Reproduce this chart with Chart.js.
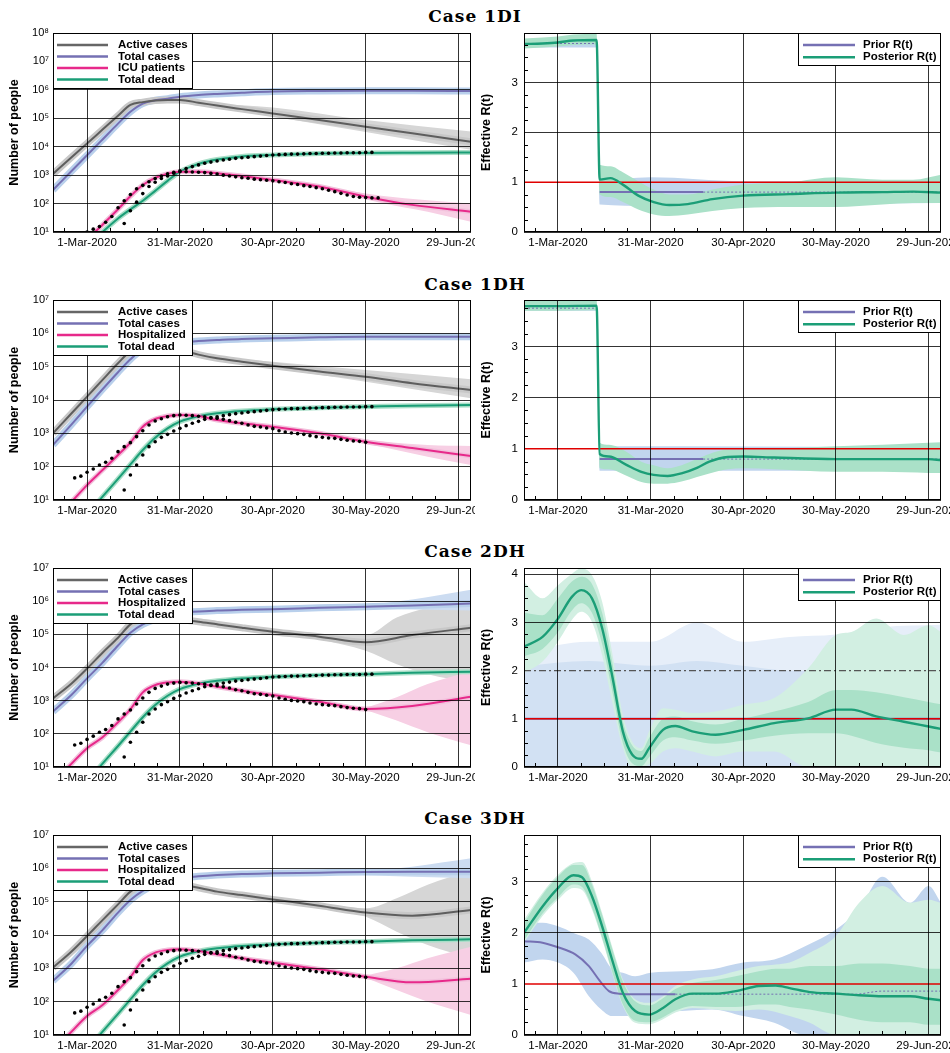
<!DOCTYPE html>
<html>
<head>
<meta charset="utf-8">
<title>Cases 1DI - 3DH</title>
<script src="https://cdn.jsdelivr.net/npm/chart.js@4.4.1/dist/chart.umd.min.js"></script>
<style>
  html, body { margin: 0; padding: 0; background: #fff; }
  #page { position: relative; width: 950px; height: 1053px; overflow: hidden; }
  #page canvas { position: absolute; }
  .case-title { position: absolute; left: 0; width: 950px; height: 20px; line-height: 20px;
    text-align: center; font: bold 17px "DejaVu Serif", serif; letter-spacing: 1px; color: #000; }
</style>
</head>
<body>
<div id="page"></div>
<script>
// ---------- axes ----------
// x = days since 1-Mar-2020
const tickDays = [0, 30, 60, 90, 120];
const tickLabels = ['1-Mar-2020', '31-Mar-2020', '30-Apr-2020', '30-May-2020', '29-Jun-2020'];
const minorDays = [-7.5, 7.5, 15, 22.5, 37.5, 45, 52.5, 67.5, 75, 82.5, 97.5, 105, 112.5];
const logTicks = [1e1, 1e2, 1e3, 1e4, 1e5, 1e6, 1e7, 1e8];
const rTicks = [0, 1, 2, 3, 4];
const caseNames = ['Case 1DI', 'Case 1DH', 'Case 2DH', 'Case 3DH'];
const legendICU = ['Active cases', 'Total cases', 'ICU patients', 'Total dead'];
const legendHosp = ['Active cases', 'Total cases', 'Hospitalized', 'Total dead'];
const legendR = ['Prior R(t)', 'Posterior R(t)'];
const peopleMax = [1e8, 1e7, 1e7, 1e7];
const rMax = [3.99, 3.91, 4.13, 3.92];

// ---------- observed data (dots) ----------
const obsDays = [-4, -2, 0, 2, 4, 6, 8, 10, 12, 14, 16, 18, 20, 22, 24, 26, 28, 30, 32, 34, 36, 38, 40, 42, 44,
  46, 48, 50, 52, 54, 56, 58, 60, 62, 64, 66, 68, 70, 72, 74, 76, 78, 80, 82, 84, 86, 88, 90, 92, 94];
const icuObs = [null, null, 10, 12.6, 15.5, 22, 35, 71, 126, 209, 331, 437, 589, 759, 933, 1120, 1260, 1320, 1320,
  1290, 1260, 1230, 1150, 1100, 1000, 933, 871, 813, 776, 724, 692, 661, 631, 589, 550, 501, 468, 427, 398, 363,
  331, 295, 263, 229, 200, 178, 166, 162, 158, 158];
const hospObs = [46, 52, 68, 85, 112, 135, 178, 282, 398, 525, 794, 1200, 1780, 2340, 2750, 3160, 3390, 3550, 3470,
  3390, 3240, 3160, 2950, 2820, 2630, 2400, 2140, 2000, 1780, 1620, 1550, 1450, 1380, 1200, 1100, 1020, 977, 933,
  851, 794, 759, 724, 708, 661, 617, 589, 575, 537, null, null];
const deadObs = [null, null, null, null, null, null, null, 9, 20, 56, 112, 224, 398, 562, 759, 933, 1170, 1410, 1700,
  2000, 2290, 2630, 2880, 3160, 3390, 3630, 3890, 4070, 4270, 4470, 4680, 4900, 5130, 5250, 5370, 5500, 5500, 5620,
  5750, 5750, 5890, 5890, 6030, 6030, 6170, 6170, 6170, 6310, 6310, null];

// ---------- model medians (number of people) ----------
const modelDays = [-11, -5, 0, 5, 10, 14, 18, 22, 26, 30, 36, 42, 50, 60, 75, 90, 105, 124];
const active1DI = [1.1e3, 4.3e3, 1.3e4, 4.0e4, 1.23e5, 2.95e5, 3.7e5, 4.2e5, 4.4e5, 4.4e5, 3.55e5, 2.8e5, 2.1e5, 1.48e5, 8.7e4, 5.0e4, 2.95e4, 1.48e4];
const total1DI = [3.0e2, 1.4e3, 5.0e3, 1.8e4, 6.5e4, 1.7e5, 3.3e5, 4.3e5, 4.9e5, 5.75e5, 6.6e5, 7.2e5, 7.9e5, 8.7e5, 9.1e5, 9.3e5, 9.3e5, 9.1e5];
const icu1DI = [1, 2.2, 5.6, 18, 63, 180, 450, 800, 1120, 1320, 1320, 1170, 930, 680, 400, 175, 90, 52];
const dead1DI = [0.25, 1, 3, 10, 30, 63, 126, 280, 630, 1320, 2500, 3550, 4570, 5130, 5750, 6030, 6170, 6310];

const active1DH = [1.0e3, 4.0e3, 1.26e4, 4.0e4, 1.26e5, 2.8e5, 3.2e5, 3.6e5, 3.6e5, 3.2e5, 2.3e5, 1.78e5, 1.41e5, 1.07e5, 7.2e4, 5.0e4, 3.2e4, 2.0e4];
const total1DH = [4.5e2, 1.86e3, 6.3e3, 2.1e4, 6.8e4, 1.66e5, 3.3e5, 4.0e5, 4.6e5, 5.25e5, 5.9e5, 6.3e5, 6.8e5, 7.1e5, 7.6e5, 7.9e5, 7.9e5, 7.9e5];
const hosp1DH = [2.5, 8.9, 28, 79, 224, 525, 1580, 2690, 3310, 3550, 3310, 2510, 2000, 1580, 1000, 562, 363, 209];
const dead1DH = [0.16, 1, 3.5, 12.6, 43, 117, 316, 741, 1410, 2240, 3240, 3980, 4680, 5250, 5890, 6310, 6760, 7080];

const active2DH = [1.17e3, 3.3e3, 9.3e3, 2.8e4, 7.9e4, 2.0e5, 3.0e5, 3.3e5, 3.2e5, 2.8e5, 2.4e5, 2.0e5, 1.58e5, 1.2e5, 8.5e4, 5.75e4, 9.5e4, 1.58e5];
const total2DH = [4.7e2, 1.5e3, 4.7e3, 1.4e4, 4.6e4, 1.12e5, 2.0e5, 2.8e5, 3.7e5, 4.5e5, 4.9e5, 5.25e5, 5.5e5, 5.75e5, 6.3e5, 6.8e5, 7.4e5, 8.5e5];
const hosp2DH = [3.2, 12.6, 37, 79, 224, 550, 1780, 2950, 3550, 3720, 3310, 2630, 2000, 1480, 933, 562, 690, 1320];
const dead2DH = [0.16, 1, 3.5, 12.6, 43, 117, 316, 741, 1410, 2240, 3240, 3980, 4680, 5250, 5890, 6310, 6920, 7410];

const active3DH = [1.05e3, 3.2e3, 9.3e3, 2.8e4, 8.3e4, 2.0e5, 3.2e5, 3.7e5, 3.8e5, 3.4e5, 2.6e5, 2.0e5, 1.58e5, 1.17e5, 7.6e4, 4.7e4, 3.8e4, 5.6e4];
const total3DH = [4.2e2, 1.4e3, 4.7e3, 1.4e4, 4.7e4, 1.12e5, 2.1e5, 3.2e5, 4.2e5, 5.0e5, 5.75e5, 6.3e5, 6.8e5, 7.1e5, 7.4e5, 7.8e5, 7.9e5, 7.9e5];
const hosp3DH = [3.2, 12.6, 37, 79, 224, 550, 1780, 2950, 3550, 3720, 3310, 2630, 2000, 1480, 933, 562, 380, 490];
const dead3DH = [0.16, 1, 3.5, 12.6, 43, 117, 316, 741, 1410, 2240, 3240, 3980, 4680, 5250, 5890, 6310, 6920, 7410];

// ---------- ensemble spread (low / high envelopes) ----------
const activeFanDays1DI = [26, 40, 60, 90, 124];
const activeFanLo1DI = [3.9e5, 2.6e5, 1.15e5, 3.3e4, 7.8e3];
const activeFanHi1DI = [4.9e5, 3.4e5, 2.4e5, 8.7e4, 3.4e4];
const icuFanDays1DI = [80, 95, 110, 124];
const icuFanLo1DI = [282, 105, 52, 23];
const icuFanHi1DI = [331, 190, 132, 100];

const activeFanDays1DH = [26, 40, 60, 90, 124];
const activeFanLo1DH = [3.2e5, 1.58e5, 8.9e4, 3.5e4, 1.12e4];
const activeFanHi1DH = [4.2e5, 2.1e5, 1.41e5, 7.9e4, 4.2e4];
const hospFanDays1DH = [80, 95, 110, 124];
const hospFanLo1DH = [760, 398, 200, 112];
const hospFanHi1DH = [912, 575, 447, 417];

const activeFanDays2DH = [75, 90, 100, 110, 124];
const activeFanLo2DH = [7.1e4, 3.2e4, 1.26e4, 6.3e3, 3.5e3];
const activeFanHi2DH = [1.0e5, 9.5e4, 3.2e5, 6.3e5, 1.26e6];
const totalFanDays2DH = [90, 105, 124];
const totalFanLo2DH = [6.3e5, 5.6e5, 5.25e5];
const totalFanHi2DH = [7.6e5, 1.12e6, 2.2e6];
const hospFanDays2DH = [90, 100, 110, 124];
const hospFanLo2DH = [525, 251, 112, 45];
const hospFanHi2DH = [603, 1260, 3160, 7900];

const activeFanDays3DH = [75, 90, 100, 110, 124];
const activeFanLo3DH = [7.1e4, 3.5e4, 1.26e4, 5.0e3, 2.0e3];
const activeFanHi3DH = [8.9e4, 6.3e4, 1.26e5, 3.2e5, 8.9e5];
const totalFanDays3DH = [90, 105, 124];
const totalFanLo3DH = [6.3e5, 5.6e5, 5.0e5];
const totalFanHi3DH = [7.9e5, 1.12e6, 2.0e6];
const hospFanDays3DH = [90, 100, 110, 124];
const hospFanLo3DH = [525, 224, 100, 40];
const hospFanHi3DH = [603, 1000, 2000, 4470];

// ---------- effective R(t) ----------
const rDays1DI = [-11, -5, 0, 5, 12.5, 13.5, 17, 21, 26, 31, 36, 42, 50, 60, 75, 90, 105, 115, 124];
const post1DI = [3.77, 3.78, 3.8, 3.84, 3.85, 1.05, 1.08, 0.95, 0.73, 0.6, 0.54, 0.56, 0.66, 0.73, 0.76, 0.79, 0.8, 0.81, 0.79];
const postLo1DI = [3.68, 3.7, 3.72, 3.75, 3.76, 0.75, 0.7, 0.6, 0.45, 0.35, 0.32, 0.35, 0.42, 0.48, 0.5, 0.5, 0.55, 0.58, 0.58];
const postHi1DI = [3.88, 3.9, 3.92, 3.96, 3.97, 1.35, 1.32, 1.2, 1.02, 0.85, 0.75, 0.75, 0.85, 0.95, 1.0, 1.1, 1.05, 1.05, 1.15];
const priorDays1DI = [-11, 12.5, 13.5, 47, 124];
const prior1DI = [3.78, 3.78, 0.8, 0.8, 0.8];
const priorSolid1DI = [13.5, 47];
const priorBandDays1DI = [-11, 12.5, 13.5, 30, 60, 124];
const priorLo1DI = [3.7, 3.7, 0.55, 0.52, 0.55, 0.58];
const priorHi1DI = [3.86, 3.86, 1.05, 1.1, 1.02, 1.02];

const rDays1DH = [-11, 0, 12.5, 13.5, 16.5, 22, 27, 31, 35.5, 40, 45, 49, 55, 60, 70, 90, 105, 120, 124];
const post1DH = [3.79, 3.79, 3.8, 0.9, 0.85, 0.69, 0.55, 0.49, 0.47, 0.52, 0.63, 0.75, 0.84, 0.85, 0.83, 0.8, 0.8, 0.8, 0.78];
const postLo1DH = [3.7, 3.7, 3.71, 0.62, 0.6, 0.48, 0.35, 0.32, 0.32, 0.36, 0.45, 0.52, 0.6, 0.62, 0.6, 0.55, 0.55, 0.53, 0.53];
const postHi1DH = [3.9, 3.9, 3.91, 1.12, 1.08, 0.95, 0.75, 0.68, 0.62, 0.68, 0.8, 0.9, 0.98, 0.98, 1.0, 1.05, 1.08, 1.12, 1.13];
const priorDays1DH = [-11, 12.5, 13.5, 47, 124];
const prior1DH = [3.75, 3.75, 0.8, 0.8, 0.8];
const priorSolid1DH = [13.5, 47];
const priorBandDays1DH = [-11, 12.5, 13.5, 40, 124];
const priorLo1DH = [3.7, 3.7, 0.57, 0.57, 0.57];
const priorHi1DH = [3.85, 3.85, 1.05, 1.05, 1.02];

const rDays2DH = [-11, -5, 0, 4.5, 7.5, 11, 14.3, 17.5, 21, 24, 27, 29.5, 34, 38, 43.5, 51, 60, 70, 81, 90, 95, 103, 112, 120, 124];
const post2DH = [2.5, 2.7, 3.08, 3.53, 3.67, 3.5, 2.88, 1.91, 0.74, 0.26, 0.17, 0.39, 0.77, 0.85, 0.74, 0.67, 0.77, 0.91, 1.01, 1.19, 1.19, 1.05, 0.94, 0.84, 0.79];
const postOutLo2DH = [1.95, 2.19, 2.6, 3.05, 3.22, 3.01, 2.32, 1.36, 0.39, 0, 0, 0.05, 0.32, 0.39, 0.32, 0.22, 0.32, 0.32, 0, 0, 0, 0, 0, 0, 0];
const postOutHi2DH = [3.84, 3.5, 3.77, 4.01, 4.12, 3.98, 3.43, 2.39, 1.08, 0.53, 0.39, 0.74, 1.22, 1.19, 1.12, 1.15, 1.29, 1.43, 2.05, 2.74, 2.8, 3.08, 2.74, 2.94, 2.8];
const postInLo2DH = [2.3, 2.45, 2.8, 3.25, 3.4, 3.2, 2.55, 1.6, 0.5, 0.08, 0.02, 0.2, 0.55, 0.62, 0.55, 0.48, 0.55, 0.65, 0.7, 0.7, 0.65, 0.5, 0.4, 0.35, 0.3];
const postInHi2DH = [3.2, 3.15, 3.5, 3.85, 3.95, 3.8, 3.2, 2.2, 0.95, 0.45, 0.33, 0.6, 1.0, 1.05, 0.95, 0.88, 1.0, 1.15, 1.35, 1.6, 1.6, 1.55, 1.45, 1.35, 1.3];
const priorDays2DH = [-11, 124];
const prior2DH = [1, 1];
const priorSolid2DH = [-11, 124];
const priorBandDays2DH = [-11, 10, 30, 45, 60, 75, 90, 105, 124];
const priorOutLo2DH = [0, 0, 0, 0, 0, 0, 0, 0, 0];
const priorOutHi2DH = [2.4, 2.6, 2.6, 3.0, 2.6, 2.7, 2.75, 2.9, 2.95];
const priorInLo2DH = [0, 0, 0, 0, 0, 0, 0, 0, 0];
const priorInHi2DH = [2.1, 2.2, 2.1, 2.2, 2.1, 2.0, 2.0, 2.0, 2.0];
const limitDays2DH = [-11, 124];
const limit2DH = [2, 2];

const rDays3DH = [-11, -5, 0, 5, 7.8, 11, 14.3, 17.5, 21, 25, 29.5, 34, 38, 43.5, 51, 57.5, 65, 70.5, 75, 81.5, 90, 97.5, 105, 114, 120, 124];
const post3DH = [2.0, 2.52, 2.88, 3.13, 3.09, 2.72, 2.13, 1.48, 0.83, 0.47, 0.4, 0.53, 0.7, 0.81, 0.81, 0.86, 0.96, 0.97, 0.92, 0.84, 0.81, 0.78, 0.76, 0.76, 0.71, 0.68];
const postOutLo3DH = [1.81, 2.33, 2.65, 2.88, 2.84, 2.46, 1.87, 1.22, 0.57, 0.24, 0.21, 0.31, 0.44, 0.53, 0.5, 0.47, 0.5, 0.45, 0.37, 0.24, 0, 0, 0, 0, 0, 0];
const postOutHi3DH = [2.26, 2.79, 3.14, 3.37, 3.39, 3.01, 2.39, 1.74, 1.09, 0.7, 0.63, 0.76, 0.96, 1.09, 1.15, 1.25, 1.35, 1.38, 1.42, 1.61, 1.94, 2.59, 2.92, 2.59, 2.65, 2.59];
const postInLo3DH = [1.85, 2.38, 2.7, 2.95, 2.9, 2.5, 1.9, 1.25, 0.6, 0.28, 0.25, 0.35, 0.48, 0.57, 0.55, 0.55, 0.6, 0.6, 0.55, 0.5, 0.4, 0.3, 0.25, 0.25, 0.2, 0.2];
const postInHi3DH = [2.2, 2.75, 3.1, 3.33, 3.33, 2.95, 2.35, 1.7, 1.05, 0.66, 0.58, 0.72, 0.9, 1.02, 1.08, 1.15, 1.25, 1.3, 1.3, 1.35, 1.35, 1.4, 1.4, 1.35, 1.3, 1.3];
const priorDays3DH = [-11, -5, 0, 5.6, 10, 13.3, 16.5, 19.8, 25, 38, 60, 96, 105, 124];
const prior3DH = [1.84, 1.81, 1.72, 1.58, 1.35, 1.08, 0.86, 0.81, 0.8, 0.8, 0.8, 0.8, 0.86, 0.86];
const priorSolid3DH = [-11, 38];
const priorBandDays3DH = [-11, -5, 0, 5, 10, 14, 17.5, 21, 25, 30, 40, 50, 60, 70, 80, 90, 97.5, 105, 114, 120, 124];
const priorLo3DH = [1.42, 1.48, 1.42, 1.22, 0.76, 0.5, 0.37, 0.37, 0.37, 0.44, 0.47, 0.5, 0.37, 0.24, 0, 0, 0, 0, 0, 0, 0];
const priorHi3DH = [2.2, 2.2, 2.13, 2.0, 1.87, 1.61, 1.29, 1.22, 1.15, 1.22, 1.25, 1.29, 1.42, 1.48, 1.74, 2.07, 2.46, 3.1, 2.59, 2.92, 2.59];

const unitDays = [-11, 124];
const unitLine = [1, 1];

// ---------- styling ----------
const FONT = '"Liberation Sans", Arial, Helvetica, sans-serif';
const C = {
  active: '#5e5e5e', total: '#7570b3', hosp: '#e7298a', dead: '#1b9e77',
  activeHalo: '#c8c8c8', totalHalo: '#b9d0ec', hospHalo: '#f2c1dc', deadHalo: '#a9dfc8',
  grayFan: '#d6d6d6', blueFan: '#ccdcf1', pinkFan: '#f7cfe4',
  post: '#1b9e77', postBand: '#aae1c8', postOuter: '#d2efe2',
  prior: '#7570b3', priorBand: '#c1d5ee', priorDense: '#d2e1f3', priorOuter: '#e6eef9', red: '#e00000'
};
const rowTop = [33, 300, 568, 835];
const rowBottom = [232, 500, 767, 1035];
const titleMid = [16, 284, 551, 818];
const SUP = ['\u2070', '\u00b9', '\u00b2', '\u00b3', '\u2074', '\u2075', '\u2076', '\u2077', '\u2078'];

Chart.defaults.font.family = FONT;
Chart.defaults.color = '#000';

function pts(xs, ys) {
  const out = [];
  xs.forEach((x, i) => { if (ys[i] !== null) out.push({ x: x, y: ys[i] }); });
  return out;
}
function lineSet(xs, ys, color, width, order, extra) {
  return Object.assign({
    data: pts(xs, ys), borderColor: color, borderWidth: width, pointRadius: 0, fill: false,
    cubicInterpolationMode: 'monotone', order: order, clip: 0
  }, extra || {});
}
function bandSets(xs, lo, hi, color, order) {
  return [
    { data: pts(xs, hi), borderWidth: 0, borderColor: 'transparent', backgroundColor: color, pointRadius: 0,
      fill: '+1', cubicInterpolationMode: 'monotone', order: order, clip: 0 },
    { data: pts(xs, lo), borderWidth: 0, borderColor: 'transparent', pointRadius: 0,
      fill: false, cubicInterpolationMode: 'monotone', order: order, clip: 0 }
  ];
}
function dotSet(xs, ys) {
  return { data: pts(xs, ys), showLine: false, pointRadius: 1.8, pointBackgroundColor: '#000',
    pointBorderWidth: 0, order: 0, clip: 0 };
}

// frame, inner minor ticks and boxed legend
function framePlugin(cfg) {
  return {
    id: 'frame',
    afterDraw(chart) {
      const ctx = chart.ctx, a = chart.chartArea;
      const xs = chart.scales.x, ys = chart.scales.y;
      ctx.save();
      ctx.strokeStyle = '#000';
      ctx.lineWidth = 1;
      ctx.beginPath();
      minorDays.forEach(d => {
        const px = Math.round(xs.getPixelForValue(d)) + 0.5;
        ctx.moveTo(px, a.bottom); ctx.lineTo(px, a.bottom - 4);
      });
      if (cfg.minorY) {
        for (let v = 0.25; v < cfg.yMax; v += 0.25) {
          if (Math.abs(v - Math.round(v)) < 1e-6) continue;
          const py = Math.round(ys.getPixelForValue(v)) + 0.5;
          ctx.moveTo(a.left, py); ctx.lineTo(a.left + 4, py);
        }
      }
      ctx.stroke();
      const L = Math.round(a.left), T = Math.round(a.top);
      const W = Math.round(a.right) - L, H = Math.round(a.bottom) - T;
      ctx.strokeRect(L + 0.5, T + 0.5, W - 1, H - 1);

      // legend box
      const lg = cfg.legend;
      const bx = lg.side === 'left' ? L : L + W - lg.w;
      ctx.fillStyle = '#fff';
      ctx.fillRect(bx, T, lg.w, lg.h);
      ctx.strokeRect(bx + 0.5, T + 0.5, lg.w - 1, lg.h - 1);
      ctx.font = 'bold 11.5px ' + FONT;
      ctx.textBaseline = 'middle';
      lg.items.forEach((it, i) => {
        const y = T + 12 + i * lg.rowH;
        ctx.strokeStyle = it.color;
        ctx.lineWidth = 2.5;
        ctx.beginPath(); ctx.moveTo(bx + lg.x0, y); ctx.lineTo(bx + lg.x1, y); ctx.stroke();
        ctx.fillStyle = '#000';
        ctx.fillText(it.text, bx + 65, y);
      });
      ctx.restore();
    }
  };
}

function gridOpts(skip) {
  return {
    color: c => (skip && c.tick && skip.indexOf(c.tick.value) >= 0) ? 'rgba(0,0,0,0)' : '#000',
    lineWidth: 0.8, drawTicks: false, z: 1
  };
}

function xScale() {
  return {
    type: 'linear', min: -11, max: 124,
    grid: gridOpts(null),
    border: { display: false },
    ticks: { autoSkip: false, maxRotation: 0, padding: 4, font: { size: 11.5 },
      callback: v => tickLabels[tickDays.indexOf(v)] },
    afterBuildTicks: s => { s.ticks = tickDays.map(v => ({ value: v })); },
    afterFit: s => { s.height = 30; s.paddingLeft = 0; s.paddingRight = 0; }
  };
}

function makeCanvas(left, top, w, h) {
  const cv = document.createElement('canvas');
  cv.width = w; cv.height = h;
  cv.style.left = left + 'px'; cv.style.top = top + 'px';
  cv.style.width = w + 'px'; cv.style.height = h + 'px';
  document.getElementById('page').appendChild(cv);
  return cv;
}

function leftChart(row, s) {
  const ds = [];
  // later fans sit on top of earlier ones (lower order = drawn later)
  s.fans.forEach((f, i) => ds.push(...bandSets(f.days, f.lo, f.hi, f.color, 30 - i)));
  ds.push(lineSet(modelDays, s.active, C.activeHalo, 7, 20));
  ds.push(lineSet(modelDays, s.total, C.totalHalo, 7, 20));
  ds.push(lineSet(modelDays, s.hosp, C.hospHalo, 5, 20));
  ds.push(lineSet(modelDays, s.dead, C.deadHalo, 5, 20));
  ds.push(lineSet(modelDays, s.active, C.active, 2, 10));
  ds.push(lineSet(modelDays, s.total, C.total, 2, 10));
  ds.push(lineSet(modelDays, s.hosp, C.hosp, 2, 10));
  ds.push(lineSet(modelDays, s.dead, C.dead, 2, 10));
  ds.push(dotSet(obsDays, s.obs));
  ds.push(dotSet(obsDays, deadObs));

  const h = rowBottom[row] - rowTop[row];
  const cv = makeCanvas(0, rowTop[row] - 10, 475, h + 40);
  const max = peopleMax[row];
  const colors = ['#666666', C.total, C.hosp, C.dead];
  new Chart(cv, {
    type: 'line',
    data: { datasets: ds },
    options: {
      responsive: false, animation: false,
      layout: { padding: { top: 10, right: 4, bottom: 0, left: 0 } },
      plugins: { legend: { display: false }, tooltip: { enabled: false } },
      scales: {
        x: xScale(),
        y: {
          type: 'logarithmic', min: 10, max: max,
          grid: gridOpts(null),
          border: { display: false },
          ticks: { padding: 4, font: { size: 11 },
            callback: v => '10' + SUP[Math.round(Math.log10(v))] },
          afterBuildTicks: sc => { sc.ticks = logTicks.filter(v => v <= max).map(v => ({ value: v })); },
          title: { display: true, text: 'Number of people', font: { size: 12.5, weight: 'bold' },
            padding: { top: 7, bottom: 0 } },
          afterFit: sc => { sc.width = 53; sc.paddingTop = 0; sc.paddingBottom = 0; }
        }
      }
    },
    plugins: [framePlugin({
      legend: { side: 'left', w: 140, h: 56, rowH: 11.5, x0: 4, x1: 55,
        items: s.legend.map((t, i) => ({ text: t, color: colors[i] })) }
    })]
  });
}

function rightChart(row, r) {
  const ds = [];
  // outer (sparse) envelope first, dense core drawn above it
  r.priorBands.forEach((b, i) => ds.push(...bandSets(b.days, b.lo, b.hi, b.color, 45 - i)));
  r.postBands.forEach((b, i) => ds.push(...bandSets(b.days, b.lo, b.hi, b.color, 35 - i)));
  const skip = [1];
  if (r.limit) {
    ds.push(lineSet(r.limit.days, r.limit.vals, '#555555', 1.3, 25, { borderDash: [7, 3, 2, 3] }));
    skip.push(r.limit.vals[0]);
  }
  const solid = r.priorSolid;
  const inSolid = x => x >= solid[0] - 1e-6 && x <= solid[1] + 1e-6;
  ds.push(lineSet(r.priorDays, r.prior, C.prior, 2, 20, {
    segment: {
      borderColor: c => Math.abs(c.p1.parsed.y - c.p0.parsed.y) > 1.5 ? 'transparent' : undefined,
      borderDash: c => (inSolid(c.p0.parsed.x) && inSolid(c.p1.parsed.x)) ? undefined : [2, 2],
      borderWidth: c => (inSolid(c.p0.parsed.x) && inSolid(c.p1.parsed.x)) ? undefined : 1
    }
  }));
  ds.push(lineSet(unitDays, unitLine, C.red, 1.5, 15));
  ds.push(lineSet(r.postDays, r.post, C.post, 2.4, 10));

  const h = rowBottom[row] - rowTop[row];
  const cv = makeCanvas(475, rowTop[row] - 10, 475, h + 40);
  const max = rMax[row];
  new Chart(cv, {
    type: 'line',
    data: { datasets: ds },
    options: {
      responsive: false, animation: false,
      layout: { padding: { top: 10, right: 9, bottom: 0, left: 0 } },
      plugins: { legend: { display: false }, tooltip: { enabled: false } },
      scales: {
        x: xScale(),
        y: {
          type: 'linear', min: 0, max: max,
          grid: gridOpts(skip),
          border: { display: false },
          ticks: { padding: 6, font: { size: 11.5 } },
          afterBuildTicks: sc => { sc.ticks = rTicks.filter(v => v <= max).map(v => ({ value: v })); },
          title: { display: true, text: 'Effective R(t)', font: { size: 12.5, weight: 'bold' },
            padding: { top: 4, bottom: 0 } },
          afterFit: sc => { sc.width = 49; sc.paddingTop = 0; sc.paddingBottom = 0; }
        }
      }
    },
    plugins: [framePlugin({
      minorY: true, yMax: max,
      legend: { side: 'right', w: 143, h: 33, rowH: 12.3, x0: 5, x1: 57,
        items: [{ text: legendR[0], color: C.prior }, { text: legendR[1], color: C.post }] }
    })]
  });
}

// ---------- titles ----------
caseNames.forEach((name, i) => {
  const d = document.createElement('div');
  d.className = 'case-title';
  d.style.top = (titleMid[i] - 10) + 'px';
  d.textContent = name;
  document.getElementById('page').appendChild(d);
});

// ---------- left column ----------
leftChart(0, { legend: legendICU, active: active1DI, total: total1DI, hosp: icu1DI, dead: dead1DI, obs: icuObs,
  fans: [{ days: activeFanDays1DI, lo: activeFanLo1DI, hi: activeFanHi1DI, color: C.grayFan },
         { days: icuFanDays1DI, lo: icuFanLo1DI, hi: icuFanHi1DI, color: C.pinkFan }] });
leftChart(1, { legend: legendHosp, active: active1DH, total: total1DH, hosp: hosp1DH, dead: dead1DH, obs: hospObs,
  fans: [{ days: activeFanDays1DH, lo: activeFanLo1DH, hi: activeFanHi1DH, color: C.grayFan },
         { days: hospFanDays1DH, lo: hospFanLo1DH, hi: hospFanHi1DH, color: C.pinkFan }] });
leftChart(2, { legend: legendHosp, active: active2DH, total: total2DH, hosp: hosp2DH, dead: dead2DH, obs: hospObs,
  fans: [{ days: activeFanDays2DH, lo: activeFanLo2DH, hi: activeFanHi2DH, color: C.grayFan },
         { days: totalFanDays2DH, lo: totalFanLo2DH, hi: totalFanHi2DH, color: C.blueFan },
         { days: hospFanDays2DH, lo: hospFanLo2DH, hi: hospFanHi2DH, color: C.pinkFan }] });
leftChart(3, { legend: legendHosp, active: active3DH, total: total3DH, hosp: hosp3DH, dead: dead3DH, obs: hospObs,
  fans: [{ days: activeFanDays3DH, lo: activeFanLo3DH, hi: activeFanHi3DH, color: C.grayFan },
         { days: totalFanDays3DH, lo: totalFanLo3DH, hi: totalFanHi3DH, color: C.blueFan },
         { days: hospFanDays3DH, lo: hospFanLo3DH, hi: hospFanHi3DH, color: C.pinkFan }] });

// ---------- right column ----------
rightChart(0, { postDays: rDays1DI, post: post1DI, priorDays: priorDays1DI, prior: prior1DI, priorSolid: priorSolid1DI,
  postBands: [{ days: rDays1DI, lo: postLo1DI, hi: postHi1DI, color: C.postBand }],
  priorBands: [{ days: priorBandDays1DI, lo: priorLo1DI, hi: priorHi1DI, color: C.priorBand }] });
rightChart(1, { postDays: rDays1DH, post: post1DH, priorDays: priorDays1DH, prior: prior1DH, priorSolid: priorSolid1DH,
  postBands: [{ days: rDays1DH, lo: postLo1DH, hi: postHi1DH, color: C.postBand }],
  priorBands: [{ days: priorBandDays1DH, lo: priorLo1DH, hi: priorHi1DH, color: C.priorBand }] });
rightChart(2, { postDays: rDays2DH, post: post2DH, priorDays: priorDays2DH, prior: prior2DH, priorSolid: priorSolid2DH,
  postBands: [{ days: rDays2DH, lo: postOutLo2DH, hi: postOutHi2DH, color: C.postOuter },
              { days: rDays2DH, lo: postInLo2DH, hi: postInHi2DH, color: C.postBand }],
  priorBands: [{ days: priorBandDays2DH, lo: priorOutLo2DH, hi: priorOutHi2DH, color: C.priorOuter },
               { days: priorBandDays2DH, lo: priorInLo2DH, hi: priorInHi2DH, color: C.priorDense }],
  limit: { days: limitDays2DH, vals: limit2DH } });
rightChart(3, { postDays: rDays3DH, post: post3DH, priorDays: priorDays3DH, prior: prior3DH, priorSolid: priorSolid3DH,
  postBands: [{ days: rDays3DH, lo: postOutLo3DH, hi: postOutHi3DH, color: C.postOuter },
              { days: rDays3DH, lo: postInLo3DH, hi: postInHi3DH, color: C.postBand }],
  priorBands: [{ days: priorBandDays3DH, lo: priorLo3DH, hi: priorHi3DH, color: C.priorBand }] });
</script>
</body>
</html>
